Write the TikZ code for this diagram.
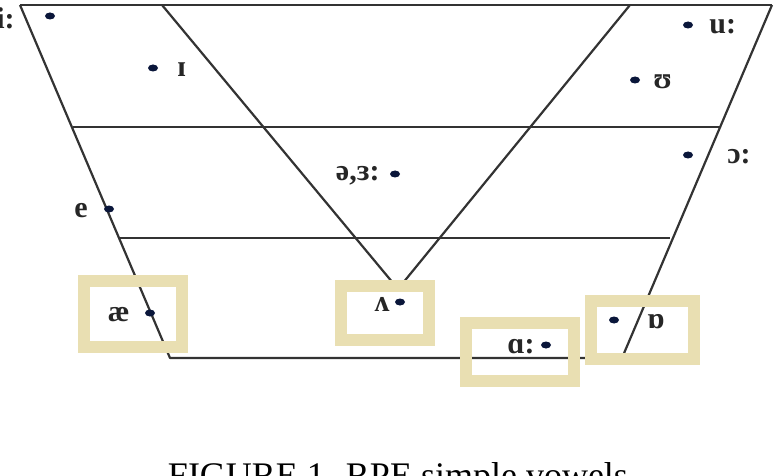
\documentclass[tikz,border=0pt]{standalone}
\usepackage{fontspec}
\setmainfont{Liberation Serif}
\usetikzlibrary{positioning,calc,shapes.geometric}
\definecolor{boxtan}{RGB}{233,223,178}
\definecolor{dotblue}{RGB}{10,22,58}
\begin{document}
\begin{tikzpicture}[x=1pt,y=-1pt,
     chartline/.style={draw=black!80,line width=2.2pt,line join=round},
     vbox/.style={draw=boxtan,line width=12pt,inner sep=0pt},
     vdot/.style={ellipse,fill=dotblue,inner sep=0pt,minimum width=10pt,minimum height=7pt},
     vlabel/.style={font=\fontsize{30}{32}\selectfont\bfseries,text=black!85,inner sep=0pt,yshift=-2pt}
     ]
     \useasboundingbox (0,0) rectangle (782,476);
     \coordinate (tl) at (20,5);
     \coordinate (tr) at (772,5);
     \coordinate (bl) at (170,358);
     \coordinate (br) at (622,358);
     \coordinate (ml) at (73,127);
     \coordinate (mr) at (720,127);
     \coordinate (ll) at (119,238);
     \coordinate (lr) at (670,238);
     \coordinate (vl) at (162,5);
     \coordinate (vb) at (398,289);
     \coordinate (vr) at (630,5);
     \draw[chartline] (tl) -- (tr);
     \draw[chartline] (tl) -- (bl) -- (br) -- (tr);
     \draw[chartline] (ml) -- (mr);
     \draw[chartline] (ll) -- (lr);
     \draw[chartline] (vl) -- (vb) -- (vr);
     \node[vbox,minimum width=98pt,minimum height=66pt] (aebox) at (133,314) {};
     \node[vbox,minimum width=88pt,minimum height=54pt] (wedgebox) at (385,313) {};
     \node[vbox,minimum width=108pt,minimum height=58pt] (aabox) at (520,352) {};
     \node[vbox,minimum width=103pt,minimum height=58pt] (obox) at (642,330) {};
     \node[vdot,label={[vlabel,label distance=30pt]left:{i:}}] (ii) at (50,16) {};
     \node[vdot,label={[vlabel,label distance=19pt]right:ɪ}] (ih) at (153,68) {};
     \node[vdot,label={[vlabel,label distance=16pt]left:e}] (e) at (109,209) {};
     \node[vdot,label={[vlabel,label distance=10pt]left:{ə,ɜ:}}] (schwa) at (395,174) {};
     \node[vdot,label={[vlabel,label distance=16pt]right:{u:}}] (uu) at (688,25) {};
     \node[vdot,label={[vlabel,label distance=13pt]right:ʊ}] (uh) at (635,80) {};
     \node[vdot,label={[vlabel,label distance=34pt]right:{ɔ:}}] (oo) at (688,155) {};
     \node[vdot,label={[vlabel,label distance=15pt]left:æ}] (ae) at (150,313) {};
     \node[vdot,label={[vlabel,label distance=5pt]left:ʌ}] (wedge) at (400,302) {};
     \node[vdot,label={[vlabel,label distance=6pt]left:{ɑ:}}] (aa) at (546,345) {};
     \node[vdot,label={[vlabel,label distance=28pt]right:ɒ}] (o) at (614,320) {};
     \node[font=\fontsize{36}{40}\selectfont,anchor=base] (caption) at (398,487) {FIGURE 1. RPE simple vowels};
   \end{tikzpicture}
\end{document}
